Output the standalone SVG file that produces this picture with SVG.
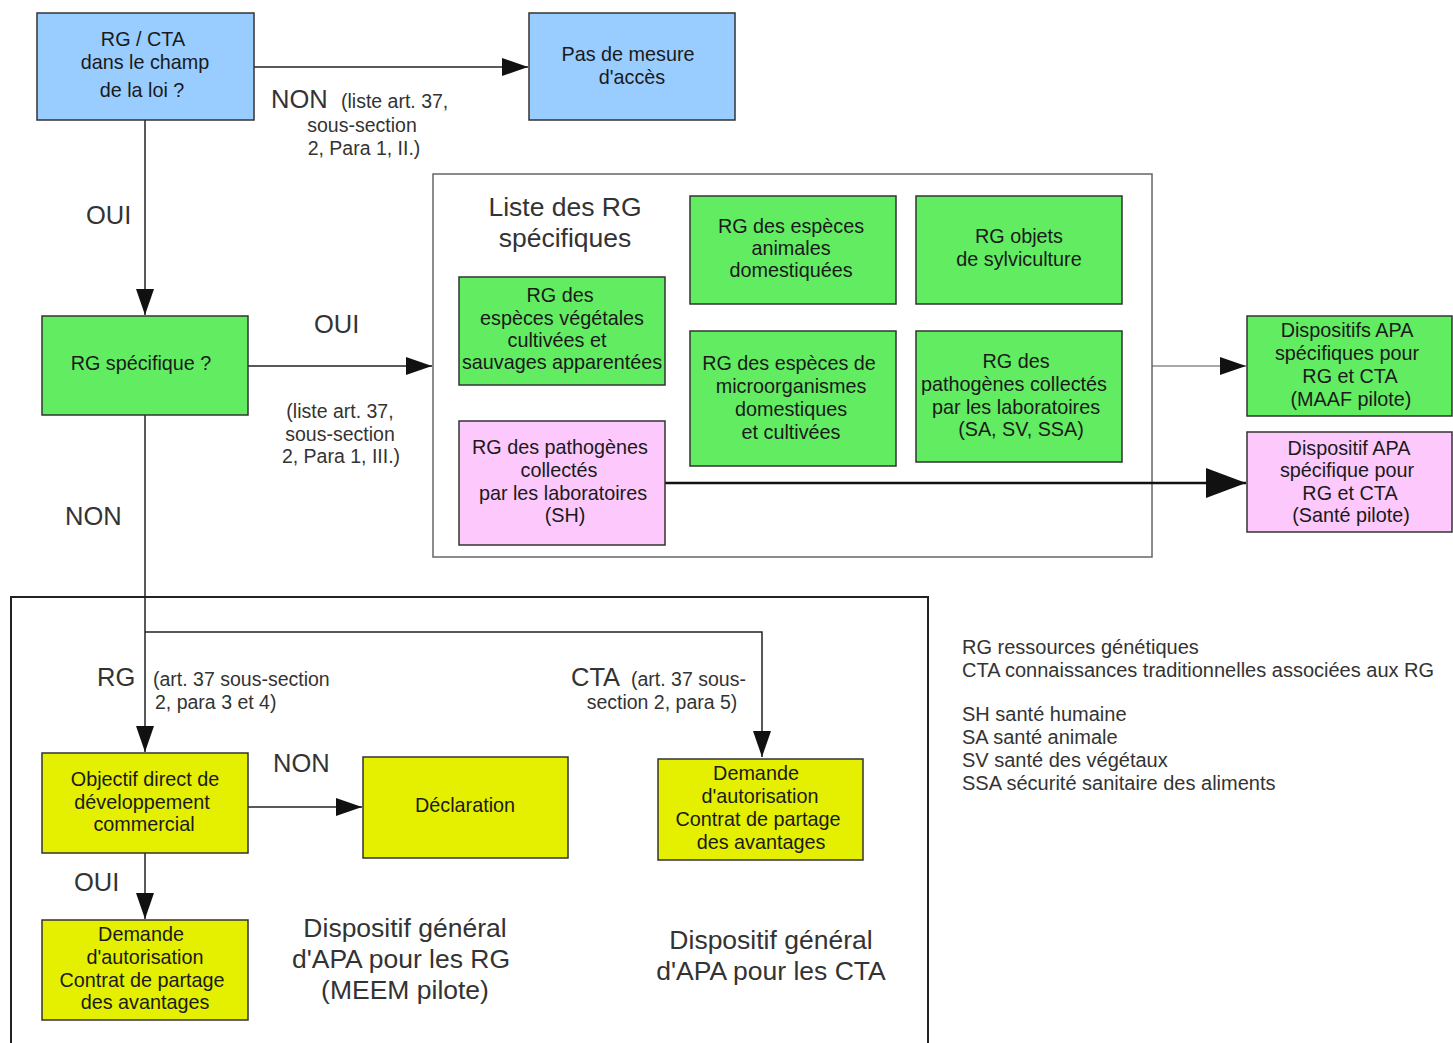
<svg xmlns="http://www.w3.org/2000/svg" width="1453" height="1043" viewBox="0 0 1453 1043">
<defs>
<marker id="ah" markerWidth="26" markerHeight="18" refX="26" refY="9" orient="auto" markerUnits="userSpaceOnUse"><path d="M0,0 L26,9 L0,18 Z" fill="#111"/></marker>
<marker id="ahb" markerWidth="40" markerHeight="30" refX="40" refY="15" orient="auto" markerUnits="userSpaceOnUse"><path d="M0,0 L40,15 L0,30 Z" fill="#111"/></marker>
<style>
.n rect{stroke:#333;stroke-width:1.5}
.blue{fill:#99ccff}
.green{fill:#62ec62}
.pink{fill:#fdc8fb}
.yellow{fill:#e4f000}
.t{font-family:"Liberation Sans",Arial,sans-serif;font-size:19.8px;fill:#1a1a1a;text-anchor:middle}
.lbl{font-family:"Liberation Sans",Arial,sans-serif;font-size:25.5px;fill:#333}
.sm{font-family:"Liberation Sans",Arial,sans-serif;font-size:19.5px;fill:#333}
.big{font-family:"Liberation Sans",Arial,sans-serif;font-size:26.5px;fill:#333;text-anchor:middle}
.leg{font-family:"Liberation Sans",Arial,sans-serif;font-size:20px;fill:#333}
.c{fill:none;stroke:#222;stroke-width:1.5}
.cg{fill:none;stroke:#555;stroke-width:1.2}
</style>
</defs>
<rect width="1453" height="1043" fill="#fff"/>

<g id="frame-liste">
<rect x="433" y="174" width="719" height="383" fill="none" stroke="#666" stroke-width="1.5"/>
<text class="big" x="565" y="216">Liste des RG</text>
<text class="big" x="565" y="247">spécifiques</text>
</g>
<g id="frame-general">
<rect x="11" y="597" width="917" height="460" fill="none" stroke="#222" stroke-width="2"/>
<text class="big" x="405" y="937">Dispositif général</text>
<text class="big" x="401" y="968">d'APA pour les RG</text>
<text class="big" x="405" y="999">(MEEM pilote)</text>
<text class="big" x="771" y="949">Dispositif général</text>
<text class="big" x="771" y="980">d'APA pour les CTA</text>
</g>

<g id="connectors">
<line class="c" x1="254" y1="67" x2="528" y2="67" marker-end="url(#ah)"/>
<line class="c" x1="145" y1="120" x2="145" y2="315" marker-end="url(#ah)"/>
<line class="c" x1="248" y1="366" x2="432" y2="366" marker-end="url(#ah)"/>
<line class="cg" x1="1152" y1="366" x2="1246" y2="366" marker-end="url(#ah)"/>
<line x1="665" y1="483" x2="1246" y2="483" stroke="#111" stroke-width="2.5" marker-end="url(#ahb)"/>
<line class="c" x1="145" y1="415" x2="145" y2="752" marker-end="url(#ah)"/>
<polyline class="c" points="145,632 762,632 762,757" marker-end="url(#ah)"/>
<line class="c" x1="248" y1="807" x2="362" y2="807" marker-end="url(#ah)"/>
<line class="c" x1="145" y1="853" x2="145" y2="919" marker-end="url(#ah)"/>
<text class="lbl" x="271" y="108">NON</text>
<text class="sm" x="341" y="108">(liste art. 37,</text>
<text class="sm" x="362" y="132" text-anchor="middle">sous-section</text>
<text class="sm" x="364" y="155" text-anchor="middle">2, Para 1, II.)</text>
<text class="lbl" x="86" y="224">OUI</text>
<text class="lbl" x="314" y="333">OUI</text>
<text class="sm" x="340" y="418" text-anchor="middle">(liste art. 37,</text>
<text class="sm" x="340" y="441" text-anchor="middle">sous-section</text>
<text class="sm" x="341" y="463" text-anchor="middle">2, Para 1, III.)</text>
<text class="lbl" x="65" y="525">NON</text>
<text class="lbl" x="97" y="686">RG</text>
<text class="sm" x="153" y="686">(art. 37 sous-section</text>
<text class="sm" x="155" y="709">2, para 3 et 4)</text>
<text class="lbl" x="571" y="686">CTA</text>
<text class="sm" x="631" y="686">(art. 37 sous-</text>
<text class="sm" x="662" y="709" text-anchor="middle">section 2, para 5)</text>
<text class="lbl" x="273" y="772">NON</text>
<text class="lbl" x="74" y="891">OUI</text>
</g>

<g id="n-champ" class="n">
<rect class="blue" x="37" y="13" width="217" height="107"/>
<text class="t" x="143" y="46">RG / CTA</text>
<text class="t" x="145" y="69">dans le champ</text>
<text class="t" x="142" y="97">de la loi ?</text>
</g>
<g id="n-pas-mesure" class="n">
<rect class="blue" x="529" y="13" width="206" height="107"/>
<text class="t" x="628" y="61">Pas de mesure</text>
<text class="t" x="632" y="84">d'accès</text>
</g>
<g id="n-rg-specifique" class="n">
<rect class="green" x="42" y="316" width="206" height="99"/>
<text class="t" x="141" y="370">RG spécifique ?</text>
</g>
<g id="n-vegetales" class="n">
<rect class="green" x="459" y="277" width="206" height="108"/>
<text class="t" x="560" y="302">RG des</text>
<text class="t" x="562" y="325">espèces végétales</text>
<text class="t" x="557" y="347">cultivées et</text>
<text class="t" x="562" y="369">sauvages apparentées</text>
</g>
<g id="n-animales" class="n">
<rect class="green" x="690" y="196" width="206" height="108"/>
<text class="t" x="791" y="233">RG des espèces</text>
<text class="t" x="791" y="255">animales</text>
<text class="t" x="791" y="277">domestiquées</text>
</g>
<g id="n-sylviculture" class="n">
<rect class="green" x="916" y="196" width="206" height="108"/>
<text class="t" x="1019" y="243">RG objets</text>
<text class="t" x="1019" y="266">de sylviculture</text>
</g>
<g id="n-micro" class="n">
<rect class="green" x="690" y="331" width="206" height="135"/>
<text class="t" x="789" y="370">RG des espèces de</text>
<text class="t" x="791" y="393">microorganismes</text>
<text class="t" x="791" y="416">domestiques</text>
<text class="t" x="791" y="439">et cultivées</text>
</g>
<g id="n-pathogenes-sa" class="n">
<rect class="green" x="916" y="331" width="206" height="131"/>
<text class="t" x="1016" y="368">RG des</text>
<text class="t" x="1014" y="391">pathogènes collectés</text>
<text class="t" x="1016" y="414">par les laboratoires</text>
<text class="t" x="1021" y="436">(SA, SV, SSA)</text>
</g>
<g id="n-pathogenes-sh" class="n">
<rect class="pink" x="459" y="421" width="206" height="124"/>
<text class="t" x="560" y="454">RG des pathogènes</text>
<text class="t" x="559" y="477">collectés</text>
<text class="t" x="563" y="500">par les laboratoires</text>
<text class="t" x="565" y="522">(SH)</text>
</g>
<g id="n-maaf" class="n">
<rect class="green" x="1247" y="316" width="205" height="100"/>
<text class="t" x="1347" y="337">Dispositifs APA</text>
<text class="t" x="1347" y="360">spécifiques pour</text>
<text class="t" x="1350" y="383">RG et CTA</text>
<text class="t" x="1351" y="406">(MAAF pilote)</text>
</g>
<g id="n-sante" class="n">
<rect class="pink" x="1247" y="432" width="205" height="100"/>
<text class="t" x="1349" y="455">Dispositif APA</text>
<text class="t" x="1347" y="477">spécifique pour</text>
<text class="t" x="1350" y="500">RG et CTA</text>
<text class="t" x="1351" y="522">(Santé pilote)</text>
</g>
<g id="n-objectif" class="n">
<rect class="yellow" x="42" y="753" width="206" height="100"/>
<text class="t" x="145" y="786">Objectif direct de</text>
<text class="t" x="142" y="809">développement</text>
<text class="t" x="144" y="831">commercial</text>
</g>
<g id="n-declaration" class="n">
<rect class="yellow" x="363" y="757" width="205" height="101"/>
<text class="t" x="465" y="812">Déclaration</text>
</g>
<g id="n-demande-cta" class="n">
<rect class="yellow" x="658" y="759" width="205" height="101"/>
<text class="t" x="756" y="780">Demande</text>
<text class="t" x="760" y="803">d'autorisation</text>
<text class="t" x="758" y="826">Contrat de partage</text>
<text class="t" x="761" y="849">des avantages</text>
</g>
<g id="n-demande-rg" class="n">
<rect class="yellow" x="42" y="920" width="206" height="100"/>
<text class="t" x="141" y="941">Demande</text>
<text class="t" x="145" y="964">d'autorisation</text>
<text class="t" x="142" y="987">Contrat de partage</text>
<text class="t" x="145" y="1009">des avantages</text>
</g>

<g id="legend">
<text class="leg" x="962" y="654">RG ressources génétiques</text>
<text class="leg" x="962" y="677">CTA connaissances traditionnelles associées aux RG</text>
<text class="leg" x="962" y="721">SH santé humaine</text>
<text class="leg" x="962" y="744">SA santé animale</text>
<text class="leg" x="962" y="767">SV santé des végétaux</text>
<text class="leg" x="962" y="790">SSA sécurité sanitaire des aliments</text>
</g>
</svg>
